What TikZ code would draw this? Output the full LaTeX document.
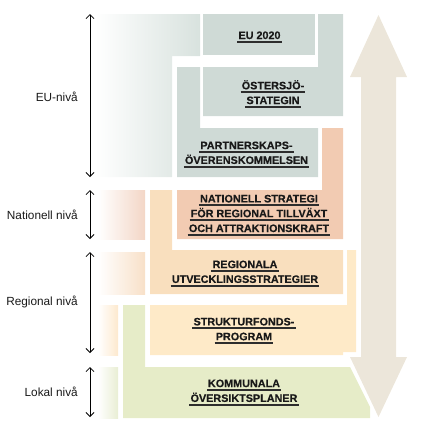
\documentclass[tikz,border=0pt]{standalone}
\usepackage{fontspec}
\setmainfont{Liberation Sans}
\newfontfamily\boxfont[FakeBold=0.4]{Liberation Sans Bold}
\usetikzlibrary{arrows.meta}
\definecolor{eu}{RGB}{207,218,214}
\definecolor{nat}{RGB}{242,203,178}
\definecolor{reg}{RGB}{249,223,190}
\definecolor{str}{RGB}{254,234,200}
\definecolor{lok}{RGB}{230,236,200}
\definecolor{big}{RGB}{236,230,218}
\definecolor{geu}{RGB}{216,226,222}
\definecolor{gnat}{RGB}{243,214,198}
\definecolor{greg}{RGB}{248,224,200}
\definecolor{gstr}{RGB}{253,233,206}
\definecolor{glok}{RGB}{233,238,212}
\definecolor{txt}{RGB}{25,25,25}
\definecolor{ulc}{RGB}{45,45,45}
\newsavebox\ulbox
\newcommand\ull[1]{\sbox\ulbox{#1}\makebox[0pt][l]{\hspace*{-1.2pt}\raisebox{-3.6pt}{\textcolor{ulc}{\rule{\dimexpr\wd\ulbox+2.4pt\relax}{1.8pt}}}}\usebox\ulbox\rule[-3.6pt]{0pt}{13.6pt}}
\tikzset{
  boxtext/.style={font=\fontsize{10.8}{14.8}\selectfont\boxfont, align=center, inner sep=0pt, text=txt},
  lvl/.style={font=\fontsize{11.8}{13}\selectfont, inner sep=0pt, anchor=east, text=txt},
  larrow/.style={line width=0.8pt, {Straight Barb[length=4pt,width=8pt]}-{Straight Barb[length=4pt,width=8pt]}}
}
\begin{document}
\begin{tikzpicture}[x=1pt,y=-1pt]
\useasboundingbox (0,0) rectangle (443,426);
% gradients
\shade[left color=white, right color=geu] (95,14) -- (200,14) -- (200,56) -- (172,56) -- (172,177) -- (95,177) -- cycle;
\shade[left color=white, right color=gnat] (98,190) rectangle (145,239);
\shade[left color=white, right color=greg] (98,252) rectangle (145,294);
\shade[left color=white, right color=gstr] (98,305) rectangle (118,355);
\shade[left color=white, right color=glok] (98,367) rectangle (118,418);
% big arrow
\fill[big] (378.5,15) -- (407,77) -- (396,77) -- (396,357) -- (407,357) -- (378.5,417) -- (350,357) -- (361,357) -- (361,77) -- (350,77) -- cycle;
% EU shapes
\fill[eu] (203,14) rectangle (315,55);
\fill[eu] (318,14) -- (343,14) -- (343,116) -- (203,116) -- (203,67) -- (318,67) -- cycle;
\fill[eu] (177,67) -- (200,67) -- (200,128) -- (318,128) -- (318,177) -- (177,177) -- cycle;
% national
\fill[nat] (322,128) -- (343,128) -- (343,239) -- (177,239) -- (177,190) -- (322,190) -- cycle;
% regional
\fill[reg] (150,190) -- (172,190) -- (172,250) -- (343,250) -- (343,294) -- (150,294) -- cycle;
\fill[str] (347,250) -- (356,250) -- (356,352) -- (343,352) -- (343,355) -- (150,355) -- (150,305) -- (347,305) -- cycle;
% local
\fill[lok] (123,305) -- (145,305) -- (145,367) -- (350,367) -- (370,407) -- (370,418) -- (123,418) -- cycle;
% texts
\node[boxtext] (eu2020) at (259.5,35.8) {\ull{EU 2020}};
\node[boxtext] (ostersjo) at (273,93.5) {\ull{ÖSTERSJÖ-}\\\ull{STATEGIN}};
\node[boxtext] (partner) at (246.5,153.3) {\ull{PARTNERSKAPS-}\\\ull{ÖVERENSKOMMELSEN}};
\node[boxtext] (nation) at (259,214) {\ull{NATIONELL STRATEGI}\\\ull{FÖR REGIONAL TILLVÄXT}\\\ull{OCH ATTRAKTIONSKRAFT}};
\node[boxtext] (regionala) at (245,272.3) {\ull{REGIONALA}\\\ull{UTVECKLINGSSTRATEGIER}};
\node[boxtext] (struktur) at (244,329.6) {\ull{STRUKTURFONDS-}\\\ull{PROGRAM}};
\node[boxtext] (kommunala) at (244,391.3) {\ull{KOMMUNALA}\\\ull{ÖVERSIKTSPLANER}};
% level labels
\node[lvl] (lEU) at (78,97) {EU-nivå};
\node[lvl] (lNat) at (78,215) {Nationell nivå};
\node[lvl] (lReg) at (78,302) {Regional nivå};
\node[lvl] (lLok) at (78,392) {Lokal nivå};
% level arrows
\coordinate (euT) at (90,14); \coordinate (euB) at (90,177);
\coordinate (naT) at (90,190); \coordinate (naB) at (90,239);
\coordinate (reT) at (90,252); \coordinate (reB) at (90,353);
\coordinate (loT) at (90,367); \coordinate (loB) at (90,417);
\draw[larrow] (euT) -- (euB);
\draw[larrow] (naT) -- (naB);
\draw[larrow] (reT) -- (reB);
\draw[larrow] (loT) -- (loB);
\end{tikzpicture}
\end{document}
